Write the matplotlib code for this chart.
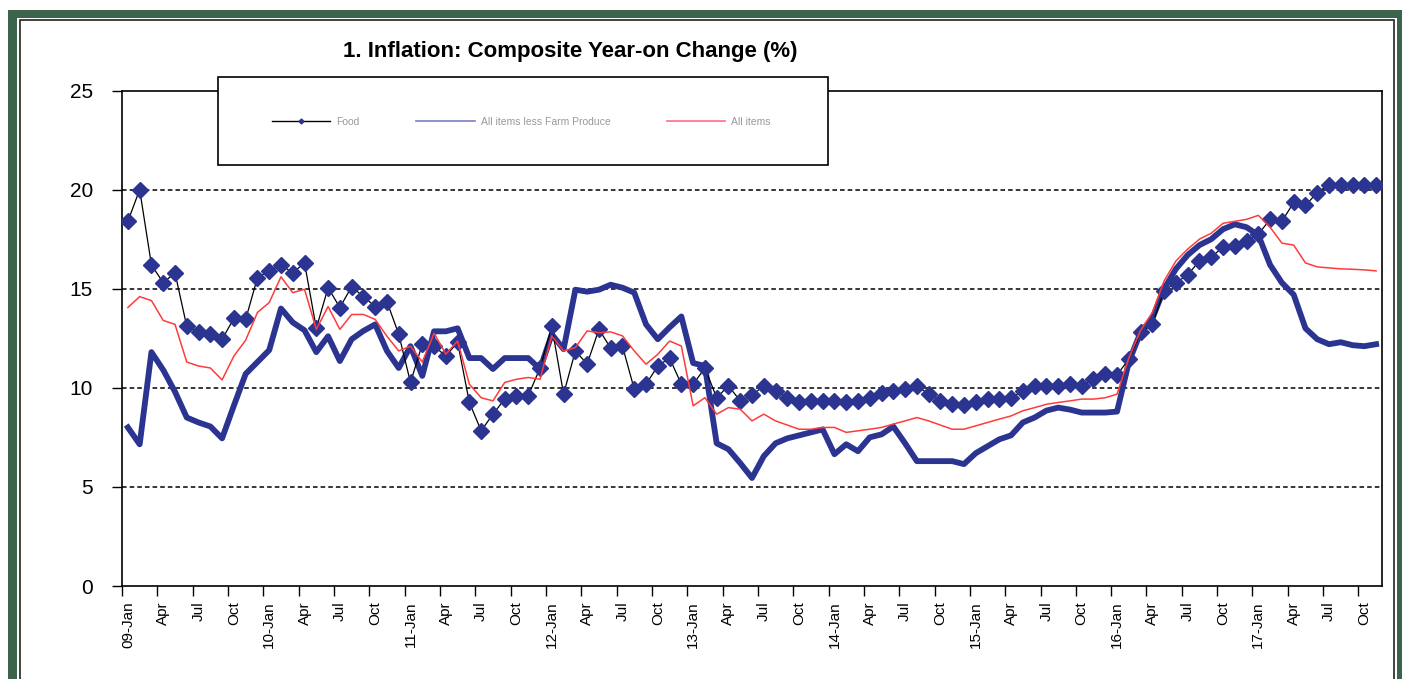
import numpy as np
import matplotlib
matplotlib.use("Agg")
import matplotlib.pyplot as plt
from matplotlib.patches import Rectangle
from matplotlib.lines import Line2D

# monthly values, Jan 2009 .. Nov 2017
food = [18.4, 20.0, 16.2, 15.3, 15.8, 13.1, 12.8, 12.7, 12.45, 13.5, 13.45, 15.55,
        15.9, 16.2, 15.8, 16.3, 13.0, 15.05, 14.05, 15.1, 14.6, 14.1, 14.35, 12.7,
        10.27, 12.2, 12.1, 11.6, 12.3, 9.26, 7.83, 8.67, 9.43, 9.6, 9.6, 11.0,
        13.1, 9.68, 11.86, 11.2, 12.95, 12.0, 12.1, 9.93, 10.18, 11.1, 11.5, 10.18,
        10.18, 11.0, 9.5, 10.1, 9.34, 9.63, 10.1, 9.84, 9.5, 9.26, 9.34, 9.34,
        9.34, 9.26, 9.34, 9.5, 9.76, 9.84, 9.93, 10.1, 9.68, 9.34, 9.17, 9.12,
        9.26, 9.43, 9.43, 9.5, 9.84, 10.1, 10.1, 10.1, 10.18, 10.1, 10.43, 10.68,
        10.65, 11.45, 12.8, 13.2, 14.9, 15.3, 15.7, 16.4, 16.6, 17.1, 17.15, 17.4,
        17.75, 18.5, 18.4, 19.35, 19.2, 19.85, 20.25, 20.25, 20.25, 20.25, 20.25]

core = [8.0, 7.15, 11.8, 10.9, 9.8, 8.5, 8.25, 8.05, 7.45, 9.1, 10.7, 11.3,
        11.9, 14.0, 13.3, 12.9, 11.8, 12.6, 11.35, 12.45, 12.87, 13.2, 11.86, 11.0,
        12.1, 10.6, 12.85, 12.85, 13.0, 11.5, 11.5, 10.95, 11.5, 11.5, 11.5, 10.95,
        12.7, 11.95, 14.95, 14.85, 14.95, 15.2, 15.05, 14.8, 13.2, 12.45, 13.05, 13.6,
        11.25, 11.1, 7.2, 6.9, 6.2, 5.45, 6.55, 7.2, 7.45, 7.6, 7.75, 7.9,
        6.65, 7.15, 6.8, 7.5, 7.65, 8.05, 7.2, 6.3, 6.3, 6.3, 6.3, 6.15,
        6.7, 7.05, 7.4, 7.6, 8.25, 8.5, 8.85, 9.0, 8.9, 8.75, 8.75, 8.75,
        8.8, 11.3, 12.8, 13.5, 15.0, 16.0, 16.7, 17.2, 17.5, 18.0, 18.25, 18.1,
        17.7, 16.2, 15.3, 14.7, 13.0, 12.45, 12.2, 12.3, 12.15, 12.1, 12.2]

headline = [14.05, 14.6, 14.4, 13.4, 13.2, 11.3, 11.1, 11.0, 10.4, 11.6, 12.4, 13.8,
            14.3, 15.6, 14.8, 14.97, 12.95, 14.1, 12.95, 13.7, 13.7, 13.45, 12.6, 11.86,
            12.1, 11.3, 12.75, 11.7, 12.36, 10.18, 9.5, 9.34, 10.27, 10.43, 10.52, 10.43,
            12.62, 11.86, 12.03, 12.87, 12.78, 12.82, 12.62, 11.86, 11.19, 11.69, 12.36, 12.11,
            9.09, 9.5, 8.67, 9.0, 8.92, 8.33, 8.67, 8.33, 8.12, 7.91, 7.91, 8.0,
            8.0, 7.75, 7.83, 7.91, 8.0, 8.17, 8.33, 8.5, 8.33, 8.12, 7.91, 7.91,
            8.08, 8.25, 8.42, 8.58, 8.84, 9.0, 9.17, 9.26, 9.34, 9.43, 9.43, 9.5,
            9.68, 11.5, 12.9, 13.8, 15.4, 16.4, 17.0, 17.5, 17.8, 18.3, 18.4, 18.5,
            18.7, 18.1, 17.3, 17.2, 16.3, 16.1, 16.05, 16.0, 15.98, 15.95, 15.9]

series_labels = ["Food", "All items less Farm Produce", "All items"]
years = ["09", "10", "11", "12", "13", "14", "15", "16", "17"]
tick_labels = []
for yy in years:
    tick_labels += [yy + "-Jan", "Apr", "Jul", "Oct"]

plt.rcParams['font.family'] = ['Liberation Sans', 'DejaVu Sans']

W, H = 1402, 679
navy = '#2b3591'
red = '#ff3b3b'
green = '#3c634b'


def fx(px):
    return px / W


def fy(py):
    return 1 - py / H


fig = plt.figure(figsize=(W / 100, H / 100), dpi=100)

# green frame around the panel
fig.add_artist(Rectangle((fx(8), -0.1), 1.0, fy(10) + 0.1,
                         facecolor=green, edgecolor='none', zorder=-3))
fig.add_artist(Rectangle((fx(17), -0.1), fx(1396.5) - fx(17), fy(18) + 0.1,
                         facecolor='white', edgecolor='none', zorder=-2))
fig.add_artist(Rectangle((fx(19.5), -0.1), fx(1394) - fx(19.5), fy(20) + 0.1,
                         facecolor='none', edgecolor='#222222', lw=1.2, zorder=-1))

ax = fig.add_axes([fx(122), fy(586), fx(1382) - fx(122), fy(90.5) - fy(586)])

x = np.arange(len(food))
ax.plot(x, core, color=navy, lw=4.2, zorder=3)
ax.plot(x, food, color='black', lw=0.9, marker='D', ms=7.8,
        mfc=navy, mec=navy, zorder=4)
ax.plot(x, headline, color=red, lw=1.1, zorder=5)

for v in [5, 10, 15, 20]:
    ax.axhline(v, color='black', lw=1.1, ls=(0, (3, 2)), zorder=1)

ax.set_xlim(-0.5, len(food) - 0.5)
ax.set_ylim(0, 25)
ax.set_yticks(range(0, 26, 5))
ax.tick_params(axis='y', length=7, width=1, pad=14, labelsize=15)

pos = np.arange(0, len(food), 3)
ax.set_xticks(pos - 0.5)
ax.set_xticklabels([])
ax.set_xticks(pos, minor=True)
ax.set_xticklabels(tick_labels, minor=True, rotation=90, fontsize=11,
                   va='top', ha='center')
ax.tick_params(axis='x', which='major', length=7, width=1)
ax.tick_params(axis='x', which='minor', length=0, pad=11)

for s in ax.spines.values():
    s.set_linewidth(1.2)
    s.set_color('black')

fig.text(fx(570), fy(51), "1. Inflation: Composite Year-on Change (%)",
         ha='center', va='center', fontsize=16, fontweight='bold')

# legend box sitting over the top of the plot
fig.add_artist(Rectangle((fx(218), fy(165)), fx(828) - fx(218), fy(77) - fy(165),
                         facecolor='white', edgecolor='black', lw=1.2, zorder=3))
handles = [
    Line2D([], [], color='black', lw=1, marker='D', ms=2.5, mfc=navy, mec=navy),
    Line2D([], [], color='#7a7fc0', lw=1.2),
    Line2D([], [], color='#ff7080', lw=1.2),
]
leg = fig.legend(handles, series_labels, ncol=3, loc='center left',
                 bbox_to_anchor=(fx(272), fy(122)), frameon=False,
                 fontsize=7.5, handlelength=5.6, handletextpad=0.6,
                 columnspacing=5.4, borderpad=0, borderaxespad=0)
for t in leg.get_texts():
    t.set_color('#999999')
leg.set_zorder(6)

fig.savefig('out.png', dpi=100)
